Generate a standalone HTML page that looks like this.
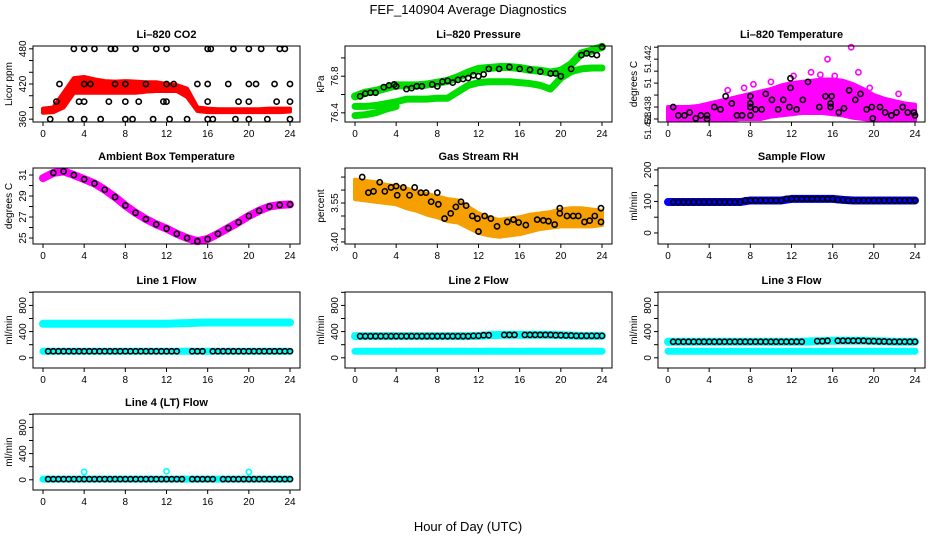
<!DOCTYPE html>
<html><head><meta charset="utf-8"><style>
body{margin:0;background:#fff;}
svg{display:block;font-family:"Liberation Sans",sans-serif;}
</style></head><body>
<svg id="chart" width="936" height="540" viewBox="0 0 936 540">
<rect width="936" height="540" fill="#fff"/>
<text x="468" y="14" font-size="13" text-anchor="middle">FEF_140904  Average Diagnostics</text>
<text x="468" y="531" font-size="13" text-anchor="middle">Hour of Day (UTC)</text>
</svg>
<script>
// ---------- data ----------
const hours = [0,1,2,3,4,5,6,7,8,9,10,11,12,13,14,15,16,17,18,19,20,21,22,23,24];
const xTicks = [0,4,8,12,16,20,24];

const co2Lo = [371,372,380,405,405,405,405,405,405,405,407,408,408,408,398,374,372,372,372,372,372,372,372,372,373];
const co2Hi = [378,380,405,430,432,428,425,424,425,424,423,423,420,418,412,380,378,377,377,377,377,377,378,378,378];
const co2PtHours = [3,4,5,6.6,7,9,11,12,16,16.3,18.5,20,21.2,23,23.5, 1.6,4,4.6,7,8,10,12,12.7,15,16,18,20,20.7,22.5,24, 1.3,3.5,4,6.4,8,9.3,11.7,12,16,19,20,22.7,24, 0.7,2.7,4,5.6,8,8.7,10.7,12.3,14,16,16.5,18.7,20,21.8,24];
const co2PtValues = [480,480,480,480,480,480,480,480,480,480,480,480,480,480,480, 420,420,420,420,420,420,420,420,420,420,420,420,420,420,420, 390,390,390,390,390,390,390,390,390,390,390,390,390, 360,360,360,360,360,360,360,360,360,360,360,360,360,360,360];

const presA = [76.58,76.62,76.64,76.67,76.70,76.70,76.70,76.71,76.73,76.75,76.79,76.84,76.88,76.89,76.90,76.90,76.89,76.87,76.86,76.84,76.86,76.93,77.05,77.08,77.12];
const presB = [76.47,76.47,76.48,76.50,76.52,76.55,76.55,76.55,76.56,76.56,76.63,76.70,76.73,76.74,76.74,76.74,76.73,76.72,76.70,76.66,76.78,76.85,76.88,76.89,76.89];
const presC = [76.37,76.38,76.40,76.44,76.47];
const presPtHours = [0.5,1,1.5,2,2.8,3.3,3.8,4,5,5.5,6,6.5,7.5,8,8.5,9,9.5,10,10.5,11,11.5,12,12.5,13,14,15,16,17,18,19,19.5,20,21,22,22.5,23,23.5,24];
const presPtValues = [76.58,76.61,76.62,76.62,76.68,76.70,76.71,76.69,76.66,76.67,76.69,76.69,76.71,76.69,76.74,76.75,76.73,76.76,76.77,76.78,76.81,76.80,76.82,76.88,76.88,76.90,76.88,76.87,76.85,76.83,76.83,76.80,76.88,77.03,77.05,77.04,77.03,77.12];

const tempHi = [1.0,1.0,1.0,1.1,1.3,1.5,1.7,1.9,2.1,2.3,2.5,2.8,3.0,3.1,3.2,3.3,3.3,3.2,2.9,2.5,2.0,1.7,1.5,1.3,1.2];
const tempLo = [-0.1,-0.1,-0.1,-0.1,-0.1,-0.1,-0.1,0,0,0,0.2,0.3,0.4,0.5,0.5,0.5,0.4,0.3,0.1,0,-0.1,-0.1,-0.1,-0.1,-0.1];
const tempTickLabels = ["51.438","51.438","51","51.442"];
const tempLabelAt = [-0.55,0.75,3,5];
const tempOutHours = [17.8,15.5,13.9,18.5,14.8,10,8.3,7.4,5.8,19.6,22.4,12.2,16.2];
const tempOutValues = [6.0,5.0,3.9,3.9,3.7,3.1,2.9,2.6,2.4,2.6,2.1,3.6,3.6];
const tempPtHours = [0.5,1.0,1.6,2.1,2.7,3.2,3.8,3.8,4.5,5.1,5.6,6.2,6.7,7.2,8.0,8.0,8.0,8.0,8.5,9.1,9.5,10.1,10.7,11.2,11.8,11.9,11.9,12.5,13.1,13.6,14.7,15.3,15.8,15.8,15.9,16.6,17.1,17.6,18.2,18.7,19.3,19.8,19.9,20.6,21.1,21.7,22.2,22.8,23.3,23.9,24];
const tempPtValues = [1.0,0.3,0.3,0.55,0.05,0.3,0.3,0,1.0,0.8,1.9,1.3,0.3,0.3,1.9,1.3,1.0,0.3,0.8,0.8,2.1,1.6,0.8,1.6,1.0,2.6,3.4,0.8,1.6,3.1,1.0,1.9,1.3,1.0,1.9,0.55,0.9,2.4,1.6,2.1,0.8,1.0,0.05,1.0,0.55,0.3,0.55,1.0,0.55,0.55,0.3];

const ambValues = [30.7,31.2,31.35,31.0,30.6,30.2,29.6,28.9,28.1,27.4,26.8,26.3,25.9,25.4,25.0,24.7,24.9,25.4,25.95,26.5,27.1,27.6,28.0,28.15,28.2];

const rhLo = [3.565,3.56,3.555,3.55,3.545,3.53,3.52,3.505,3.495,3.48,3.475,3.455,3.435,3.425,3.42,3.425,3.43,3.44,3.45,3.455,3.46,3.46,3.46,3.46,3.465];
const rhHi = [3.64,3.635,3.63,3.62,3.615,3.605,3.595,3.585,3.575,3.565,3.56,3.535,3.51,3.495,3.485,3.49,3.495,3.505,3.51,3.515,3.525,3.53,3.53,3.525,3.52];
const rhPtHours = [0.7,1.3,1.8,2.4,2.9,3.5,4.0,4.1,4.7,5.3,5.8,6.4,6.9,7.4,8.0,8.1,8.7,9.3,9.8,10.3,10.8,11.4,11.9,12.0,12.6,13.2,13.8,14.8,15.4,15.9,16.6,17.7,18.3,18.8,19.4,19.9,19.9,20.6,21.2,21.7,22.3,22.8,23.3,23.9,23.9];
const rhPtValues = [3.65,3.59,3.595,3.63,3.595,3.61,3.615,3.58,3.61,3.58,3.61,3.59,3.59,3.555,3.59,3.545,3.49,3.51,3.535,3.555,3.54,3.50,3.49,3.44,3.50,3.49,3.46,3.477,3.486,3.475,3.465,3.486,3.483,3.48,3.467,3.53,3.51,3.50,3.50,3.50,3.477,3.482,3.50,3.477,3.53];

const sampleFlow = [98,98,98,98,98,98,98,98,103,103,103,103,108,108,108,108,108,105,103,103,103,103,103,103,103];
const line1High = [520,520,520,520,520,520,520,520,520,520,520,520,520,525,530,535,540,540,540,540,540,540,540,540,540];
const line1Low = [100,100,100,100,100,100,100,100,100,100,100,100,100,100,100,100,100,100,100,100,100,100,100,100,100];
const line2High = [330,330,330,330,330,330,330,330,330,330,330,330,335,345,350,350,350,350,350,350,345,340,335,335,335];
const line2Low = [100,100,100,100,100,100,100,100,100,100,100,100,100,100,100,100,100,100,100,100,100,100,100,100,100];
const line3High = [245,245,245,245,245,245,245,245,245,245,245,245,245,245,250,255,260,260,260,260,255,250,245,245,245];
const line3Low = [100,100,100,100,100,100,100,100,100,100,100,100,100,100,100,100,100,100,100,100,100,100,100,100,100];
const line4Band = [10,10,10,10,10,10,10,10,10,10,10,10,10,10,10,10,10,10,10,10,10,10,10,10,10];
const line4OutHours = [4,12,20];
const line4OutValues = [120,130,120];
const gap1 = [[13.2,14.3],[15.7,16.5]];

// ---------- drawing ----------
const svg = document.getElementById('chart');
const NS = 'http://www.w3.org/2000/svg';
function el(tag, attrs, parent){const e=document.createElementNS(NS,tag);for(const k in attrs)e.setAttribute(k,attrs[k]);(parent||svg).appendChild(e);return e;}

function panel(name, L, T, ymin, ymax, yTicks, yLabels, yTitle, title, labelAt){
  const W=267, H=76;
  const g = el('g',{});
  
  
  const xs = h => L + 10 + h/24*(W-20);
  const ys = v => T + H - (v-ymin)/(ymax-ymin)*H;
  const data = el('g',{},g);
  const ax = el('g',{},g);
  const fr = el('rect',{x:L,y:T,width:W,height:H,fill:'none',stroke:'#000','stroke-width':1},ax);
  
  
  const t = el('text',{x:L+W/2,y:T-8,'font-size':11,'font-weight':'bold','text-anchor':'middle'},ax);
  t.textContent = title;
  
  
  xTicks.forEach(h=>{
    el('line',{x1:xs(h),x2:xs(h),y1:T+H,y2:T+H+4,stroke:'#000'},ax);
    const lb = el('text',{x:xs(h),y:T+H+15,'font-size':10,'text-anchor':'middle'},ax);
    lb.textContent = h;
    
    
  });
  yTicks.forEach(v=>{
    el('line',{x1:L,x2:L-4,y1:ys(v),y2:ys(v),stroke:'#000'},ax);
  });
  const pos = labelAt || yTicks;
  yLabels.forEach((s,i)=>{
    if(!s) return;
    const lb = el('text',{x:0,y:0,'font-size':labelAt?9:10,'text-anchor':'middle',transform:`translate(${L-7},${ys(pos[i])}) rotate(-90)`},ax);
    lb.textContent = s;
    
    
  });
  const yt = el('text',{x:0,y:0,'font-size':10,'text-anchor':'middle',transform:`translate(${L-21},${T+H/2}) rotate(-90)`},ax);
  yt.textContent = yTitle;
  
  
  return {xs, ys, g:data};
}

function band(p, hrs, lo, hi, color, label){
  let pts = hrs.map((h,i)=>p.xs(h)+','+p.ys(hi[i]));
  for(let i=hrs.length-1;i>=0;i--) pts.push(p.xs(hrs[i])+','+p.ys(lo[i]));
  const e = el('polygon',{points:pts.join(' '),fill:color,stroke:color,'stroke-width':4,'stroke-linejoin':'round'},p.g);
  
  
}
function thick(p, hrs, vals, color, w, label){
  const e = el('polyline',{points:hrs.map((h,i)=>p.xs(h)+','+p.ys(vals[i])).join(' '),fill:'none',stroke:color,'stroke-width':w,'stroke-linejoin':'round','stroke-linecap':'round'},p.g);
  
  
}
function pts(p, hrs, vals, color, label, r){
  hrs.forEach((h,i)=>{
    const c = el('circle',{cx:p.xs(h),cy:p.ys(vals[i]),r:r||2.6,fill:'none',stroke:color,'stroke-width':1.6},p.g);
    
    
  });
}
function flowPts(p, vals, label, gaps){
  for(let h=0.5; h<=24.01; h+=0.5){
    if(gaps && gaps.some(g=>h>g[0]&&h<g[1])) continue;
    const i=Math.min(24,Math.round(h));
    const c = el('circle',{cx:p.xs(h),cy:p.ys(vals[i]),r:2.6,fill:'none',stroke:'#000','stroke-width':1.6},p.g);
    
    
  }
}
const C=[33,345,658], R=[46,168,292,414];
const flowTicks=[0,200,400,600,800,1000], flowLabels=['0','','400','','800',''];

let p = panel('co2',C[0],R[0],355.2,484.8,[360,380,400,420,440,460,480],['360','','','420','','','480'],'Licor ppm','Li\u2013820 CO2');
band(p,hours,co2Lo,co2Hi,'#ff0000','co2-band');
pts(p,co2PtHours,co2PtValues,'#000','co2-average-point');

p = panel('pressure',C[1],R[0],76.30,77.13,[76.4,76.6,76.8,77.0],['76.4','','76.8',''],'kPa','Li\u2013820 Pressure');
thick(p,hours,presA,'#00dd00',8,'pressure-band-a');
thick(p,hours,presB,'#00dd00',7,'pressure-band-b');
thick(p,[0,1,2,3,4],presC,'#00dd00',7,'pressure-band-c');
pts(p,presPtHours,presPtValues,'#000','pressure-average-point');

p = panel('li820-temp',C[2],R[0],-0.25,6.1,[0,1,2,3,4,5,6],tempTickLabels,'degrees C','Li\u2013820 Temperature',tempLabelAt);
band(p,hours,tempLo,tempHi,'#ff00ff','temp-band');
pts(p,tempOutHours,tempOutValues,'#ff00ff','temp-outlier');
pts(p,tempPtHours,tempPtValues,'#000','temp-average-point');

p = panel('ambient-temp',C[0],R[1],24.43,31.67,[25,26,27,28,29,30,31],['25','','27','','29','','31'],'degrees C','Ambient Box Temperature');
thick(p,hours,ambValues,'#ff00ff',8,'ambient-band');
pts(p,hours.slice(1),ambValues.slice(1),'#000','ambient-average-point');

p = panel('gas-rh',C[1],R[1],3.392,3.685,[3.40,3.45,3.50,3.55,3.60,3.65],['3.40','','','3.55','',''],'percent','Gas Stream RH');
band(p,hours,rhLo,rhHi,'#f5a000','rh-band');
pts(p,rhPtHours,rhPtValues,'#000','rh-average-point');

p = panel('sample-flow',C[2],R[1],-35,206,[0,50,100,150,200],['0','','100','','200'],'ml/min','Sample Flow');
thick(p,hours,sampleFlow,'#0000ff',8,'sample-flow-band');
flowPts(p,sampleFlow,'sample-flow-point');

p = panel('line1-flow',C[0],R[2],-156,1005,flowTicks,flowLabels,'ml/min','Line 1 Flow');
thick(p,hours,line1High,'#00ffff',8,'line1-high-band');
thick(p,hours,line1Low,'#00ffff',7,'line1-low-band');
flowPts(p,line1Low,'line1-point',gap1);

p = panel('line2-flow',C[1],R[2],-156,1005,flowTicks,flowLabels,'ml/min','Line 2 Flow');
thick(p,hours,line2High,'#00ffff',8,'line2-high-band');
thick(p,hours,line2Low,'#00ffff',7,'line2-low-band');
flowPts(p,line2High,'line2-point',gap1);

p = panel('line3-flow',C[2],R[2],-156,1005,flowTicks,flowLabels,'ml/min','Line 3 Flow');
thick(p,hours,line3High,'#00ffff',8,'line3-high-band');
thick(p,hours,line3Low,'#00ffff',7,'line3-low-band');
flowPts(p,line3High,'line3-point',gap1);

p = panel('line4-flow',C[0],R[3],-156,1005,flowTicks,flowLabels,'ml/min','Line 4 (LT) Flow');
thick(p,hours,line4Band,'#00ffff',7,'line4-band');
pts(p,line4OutHours,line4OutValues,'#00ffff','line4-outlier');
flowPts(p,line4Band,'line4-point',[[13.7,14.4],[16.6,17.4]]);
</script>
</body></html>
